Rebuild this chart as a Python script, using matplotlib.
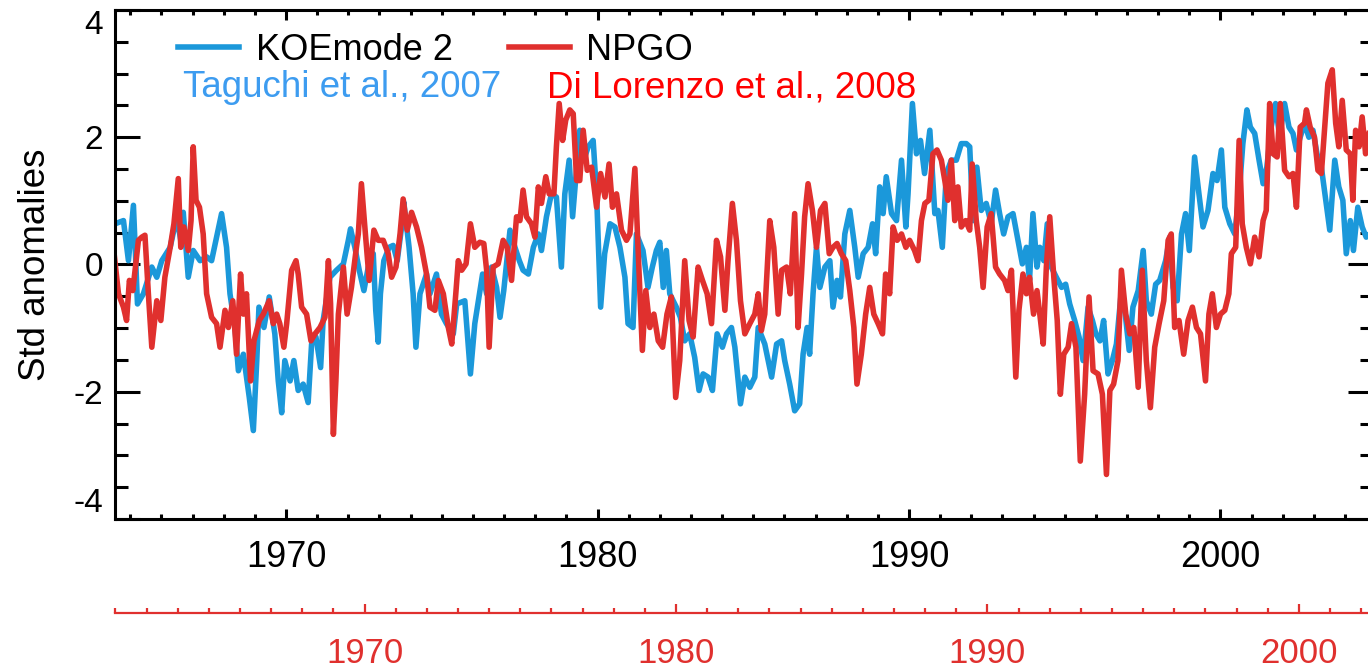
import matplotlib
matplotlib.use("Agg")
import matplotlib.pyplot as plt
from matplotlib.ticker import MultipleLocator

plt.rcParams['font.family'] = ['Liberation Sans', 'DejaVu Sans']
plt.rcParams['axes.unicode_minus'] = False

# KOE mode 2 (Taguchi et al., 2007)
koe_year = [
    1964.51, 1964.78, 1964.94, 1965.10, 1965.23, 1965.42, 1965.69, 1965.85, 1966.01, 1966.28,
    1966.49, 1966.62, 1966.70, 1966.86, 1967.02, 1967.24, 1967.45, 1967.61, 1967.93, 1968.09,
    1968.20, 1968.36, 1968.47, 1968.63, 1968.82, 1968.95, 1969.06, 1969.13, 1969.29, 1969.46,
    1969.64, 1969.75, 1969.86, 1969.96, 1970.13, 1970.25, 1970.39, 1970.55, 1970.71, 1970.82,
    1970.96, 1971.11, 1971.19, 1971.41, 1971.62, 1971.84, 1972.00, 1972.07, 1972.21, 1972.35,
    1972.50, 1972.64, 1972.80, 1972.88, 1972.96, 1973.03, 1973.14, 1973.31, 1973.44, 1973.57,
    1973.71, 1973.78, 1973.95, 1974.08, 1974.17, 1974.30, 1974.51, 1974.62, 1974.83, 1974.99,
    1975.15, 1975.37, 1975.48, 1975.74, 1975.92, 1976.06, 1976.31, 1976.44, 1976.60, 1976.76,
    1976.87, 1976.99, 1977.19, 1977.35, 1977.49, 1977.61, 1977.78, 1977.94, 1978.10, 1978.20,
    1978.36, 1978.52, 1978.68, 1978.84, 1978.95, 1979.09, 1979.20, 1979.33, 1979.43, 1979.56,
    1979.70, 1979.86, 1979.97, 1980.10, 1980.23, 1980.40, 1980.56, 1980.72, 1980.88, 1980.98,
    1981.14, 1981.25, 1981.46, 1981.62, 1981.76, 1981.89, 1982.00, 1982.11, 1982.21, 1982.32,
    1982.53, 1982.66, 1982.80, 1982.96, 1983.12, 1983.26, 1983.39, 1983.55, 1983.69, 1983.84,
    1984.01, 1984.14, 1984.30, 1984.41, 1984.59, 1984.73, 1984.89, 1985.05, 1985.16, 1985.37,
    1985.59, 1985.75, 1985.91, 1986.01, 1986.17, 1986.33, 1986.49, 1986.60, 1986.73, 1986.81,
    1986.92, 1987.03, 1987.14, 1987.30, 1987.46, 1987.56, 1987.69, 1987.80, 1987.94, 1988.10,
    1988.26, 1988.37, 1988.53, 1988.69, 1988.83, 1988.93, 1989.06, 1989.17, 1989.27, 1989.44,
    1989.60, 1989.76, 1989.90, 1989.97, 1990.11, 1990.24, 1990.37, 1990.50, 1990.67, 1990.83,
    1990.93, 1991.07, 1991.20, 1991.36, 1991.52, 1991.68, 1991.84, 1991.95, 1992.06, 1992.18,
    1992.32, 1992.48, 1992.64, 1992.78, 1992.91, 1993.04, 1993.18, 1993.34, 1993.50, 1993.64,
    1993.77, 1993.87, 1993.98, 1994.11, 1994.20, 1994.33, 1994.44, 1994.57, 1994.73, 1994.90,
    1995.03, 1995.16, 1995.32, 1995.46, 1995.59, 1995.75, 1995.89, 1996.00, 1996.13, 1996.25,
    1996.39, 1996.53, 1996.66, 1996.82, 1996.93, 1997.07, 1997.19, 1997.36, 1997.52, 1997.62,
    1997.78, 1997.92, 1998.05, 1998.24, 1998.37, 1998.48, 1998.61, 1998.75, 1998.88, 1999.00,
    1999.17, 1999.31, 1999.44, 1999.60, 1999.76, 1999.89, 2000.03, 2000.14, 2000.30, 2000.46,
    2000.60, 2000.72, 2000.85, 2000.96, 2001.10, 2001.24, 2001.37, 2001.49, 2001.63, 2001.77,
    2001.90, 2002.06, 2002.20, 2002.33, 2002.44, 2002.56, 2002.70, 2002.84, 2002.97, 2003.10,
    2003.24, 2003.38, 2003.51, 2003.67, 2003.80, 2003.93, 2004.04, 2004.17, 2004.27, 2004.41,
    2004.55, 2004.68, 2004.79,
]
koe_value = [
    0.64, 0.69, 0.06, 0.93, -0.62, -0.46, -0.04, -0.20, 0.06, 0.27,
    0.75, 0.38, 0.82, -0.20, 0.22, 0.06, 0.12, 0.06, 0.80, 0.27,
    -0.46, -0.99, -1.67, -1.41, -2.09, -2.61, -1.51, -0.67, -0.99, -0.51,
    -1.09, -1.83, -2.33, -1.51, -1.83, -1.51, -1.98, -1.88, -2.17, -1.25,
    -1.14, -1.62, -0.88, -0.20, -0.09, 0.01, 0.38, 0.56, 0.27, -0.09,
    -0.41, -0.04, 0.17, -0.72, -1.22, -0.46, 0.06, 0.27, 0.30, 0.06,
    0.59, 0.98, 0.27, -0.46, -1.30, -0.46, -0.15, -0.46, -0.15, -0.78,
    -0.93, -1.09, -0.62, -0.57, -1.72, -0.93, -0.15, -0.46, -0.04, -0.36,
    -0.83, -0.41, 0.54, 0.27, 0.06, -0.09, -0.15, 0.27, 0.48, 0.22,
    0.75, 1.11, 1.06, -0.04, 1.11, 1.64, 0.75, 1.53, 2.11, 1.64,
    1.85, 1.95, 1.11, -0.67, 0.17, 0.64, 0.59, 0.27, -0.20, -0.93,
    -0.99, 0.48, 0.22, -0.36, -0.04, 0.22, 0.35, -0.36, 0.22, -0.46,
    -0.67, -0.83, -1.20, -1.09, -1.46, -1.98, -1.72, -1.77, -1.98, -1.09,
    -1.30, -1.09, -0.99, -1.30, -2.19, -1.77, -1.93, -1.77, -0.99, -1.25,
    -1.77, -1.25, -1.20, -1.51, -1.88, -2.30, -2.19, -1.41, -0.99, -1.41,
    -0.46, 0.27, -0.36, -0.04, 0.06, -0.67, -0.25, -0.51, 0.48, 0.85,
    0.27, -0.20, 0.17, 0.27, 0.64, 0.17, 1.22, 0.80, 1.38, 0.80,
    0.69, 1.64, 0.59, 1.11, 2.53, 1.74, 1.95, 1.43, 2.11, 0.80,
    0.85, 0.27, 1.43, 1.64, 1.64, 1.90, 1.90, 1.85, 0.69, 1.53,
    0.85, 0.96, 0.64, 1.17, 0.80, 0.48, 0.75, 0.80, 0.38, 0.01,
    0.27, -0.25, 0.80, -0.04, 0.27, 0.06, 0.64, -0.04, -0.20, -0.36,
    -0.31, -0.62, -0.88, -1.14, -1.51, -0.67, -0.88, -1.09, -1.20, -0.88,
    -1.72, -1.51, -1.25, -0.41, -0.72, -1.35, -0.67, -0.41, 0.22, -0.57,
    -0.78, -0.31, -0.25, 0.06, 0.43, -0.36, -0.57, 0.48, 0.80, 0.22,
    1.69, 1.11, 0.59, 0.85, 1.43, 1.32, 1.80, 0.90, 0.64, 0.48,
    1.11, 1.90, 2.43, 2.16, 2.06, 1.64, 1.27, 1.53, 2.16, 2.53,
    2.00, 2.53, 2.16, 2.06, 1.80, 2.00, 2.22, 2.00, 2.11, 1.74,
    1.53, 1.01, 0.54, 1.64, 1.22, 1.01, 0.17, 0.69, 0.22, 0.90,
    0.59, 0.43, 0.48,
]

# NPGO (Di Lorenzo et al., 2008), plotted with its lag
npgo_year = [
    1964.48, 1964.62, 1964.78, 1964.88, 1964.97, 1965.08, 1965.26, 1965.37, 1965.47, 1965.58,
    1965.69, 1965.85, 1965.98, 1966.11, 1966.28, 1966.40, 1966.54, 1966.62, 1966.72, 1966.86,
    1966.95, 1967.02, 1967.11, 1967.22, 1967.34, 1967.45, 1967.61, 1967.77, 1967.88, 1968.04,
    1968.15, 1968.29, 1968.41, 1968.54, 1968.63, 1968.73, 1968.86, 1968.97, 1969.14, 1969.27,
    1969.46, 1969.59, 1969.70, 1969.80, 1969.93, 1970.02, 1970.18, 1970.32, 1970.39, 1970.50,
    1970.66, 1970.80, 1970.93, 1971.09, 1971.25, 1971.36, 1971.43, 1971.52, 1971.60, 1971.68,
    1971.84, 1971.96, 1972.10, 1972.26, 1972.32, 1972.42, 1972.53, 1972.67, 1972.82, 1972.96,
    1973.12, 1973.28, 1973.39, 1973.53, 1973.66, 1973.76, 1973.89, 1974.03, 1974.19, 1974.35,
    1974.51, 1974.62, 1974.78, 1974.89, 1975.05, 1975.21, 1975.32, 1975.45, 1975.53, 1975.64,
    1975.78, 1975.92, 1976.06, 1976.22, 1976.35, 1976.44, 1976.52, 1976.65, 1976.81, 1976.97,
    1977.10, 1977.24, 1977.40, 1977.51, 1977.61, 1977.72, 1977.88, 1977.99, 1978.10, 1978.20,
    1978.34, 1978.45, 1978.60, 1978.68, 1978.77, 1978.88, 1978.98, 1979.11, 1979.22, 1979.33,
    1979.43, 1979.54, 1979.67, 1979.81, 1979.97, 1980.10, 1980.24, 1980.37, 1980.48, 1980.61,
    1980.77, 1980.93, 1981.04, 1981.20, 1981.30, 1981.44, 1981.55, 1981.68, 1981.81, 1981.95,
    1982.09, 1982.23, 1982.37, 1982.51, 1982.64, 1982.80, 1982.94, 1983.07, 1983.23, 1983.37,
    1983.52, 1983.66, 1983.82, 1983.95, 1984.09, 1984.19, 1984.33, 1984.46, 1984.59, 1984.73,
    1984.89, 1985.05, 1985.16, 1985.26, 1985.37, 1985.53, 1985.66, 1985.80, 1985.91, 1986.07,
    1986.19, 1986.33, 1986.44, 1986.55, 1986.65, 1986.76, 1986.90, 1987.03, 1987.16, 1987.30,
    1987.44, 1987.56, 1987.69, 1987.83, 1987.97, 1988.10, 1988.23, 1988.33, 1988.47, 1988.61,
    1988.74, 1988.87, 1989.01, 1989.15, 1989.25, 1989.38, 1989.49, 1989.62, 1989.76, 1989.90,
    1990.02, 1990.18, 1990.29, 1990.40, 1990.51, 1990.64, 1990.77, 1990.90, 1991.04, 1991.15,
    1991.25, 1991.36, 1991.47, 1991.57, 1991.68, 1991.82, 1991.95, 1992.03, 1992.16, 1992.27,
    1992.38, 1992.51, 1992.64, 1992.78, 1992.91, 1993.07, 1993.18, 1993.29, 1993.43, 1993.53,
    1993.66, 1993.77, 1993.87, 1994.00, 1994.11, 1994.20, 1994.31, 1994.41, 1994.52, 1994.65,
    1994.76, 1994.86, 1994.97, 1995.11, 1995.22, 1995.36, 1995.50, 1995.64, 1995.78, 1995.91,
    1996.07, 1996.21, 1996.34, 1996.45, 1996.57, 1996.71, 1996.82, 1996.96, 1997.09, 1997.22,
    1997.36, 1997.49, 1997.62, 1997.75, 1997.89, 1998.03, 1998.18, 1998.32, 1998.42, 1998.53,
    1998.67, 1998.82, 1998.96, 1999.10, 1999.23, 1999.36, 1999.52, 1999.63, 1999.74, 1999.87,
    2000.00, 2000.14, 2000.27, 2000.35, 2000.49, 2000.60, 2000.70, 2000.83, 2000.96, 2001.10,
    2001.24, 2001.37, 2001.47, 2001.58, 2001.69, 2001.82, 2001.92, 2002.06, 2002.20, 2002.33,
    2002.44, 2002.56, 2002.70, 2002.76, 2002.88, 2003.02, 2003.13, 2003.24, 2003.34, 2003.45,
    2003.59, 2003.70, 2003.80, 2003.91, 2004.04, 2004.17, 2004.25, 2004.34, 2004.45, 2004.55,
    2004.66, 2004.77,
]
npgo_value = [
    0.17, -0.46, -0.67, -0.88, -0.25, -0.41, 0.38, 0.43, 0.46, -0.46,
    -1.30, -0.57, -0.88, -0.20, 0.27, 0.64, 1.35, 0.27, 0.59, 0.22,
    0.69, 1.85, 1.01, 0.90, 0.48, -0.46, -0.83, -0.93, -1.30, -0.72,
    -0.99, -0.57, -1.41, -0.15, -0.78, -0.46, -1.83, -1.20, -0.88, -0.78,
    -0.57, -0.93, -0.78, -0.93, -1.30, -0.93, -0.09, 0.06, -0.15, -0.67,
    -0.78, -1.20, -1.09, -0.99, -0.83, 0.06, -0.62, -2.67, -1.83, -0.78,
    -0.04, -0.78, -0.36, 0.27, 0.48, 1.27, 0.59, -0.25, 0.54, 0.38,
    0.38, 0.17, -0.20, -0.04, 0.48, 1.03, 0.54, 0.82, 0.59, 0.27,
    -0.15, -0.67, -0.72, -0.25, -0.46, -0.99, -1.25, -0.46, 0.06, -0.09,
    0.01, 0.64, 0.27, 0.35, 0.33, -0.09, -1.30, -0.04, 0.01, 0.38,
    0.27, -0.25, 0.75, 0.69, 1.17, 0.75, 0.64, 0.43, 1.22, 0.96,
    1.38, 1.11, 1.11, 1.85, 2.53, 1.95, 2.27, 2.43, 2.37, 1.32,
    1.32, 2.11, 1.48, 1.53, 0.90, 1.43, 1.06, 1.58, 0.90, 1.11,
    0.54, 0.38, 0.48, 1.51, 0.27, -1.35, -0.41, -0.99, -0.78, -1.20,
    -1.30, -0.78, -0.51, -2.09, -1.51, 0.06, -0.88, -1.14, -0.04, -0.25,
    -0.46, -0.93, 0.38, 0.12, -0.72, 0.06, 0.96, 0.38, -0.57, -1.09,
    -0.93, -0.78, -0.46, -1.04, -0.78, 0.69, 0.27, -0.78, -0.09, -0.04,
    -0.46, 0.80, -0.99, -0.15, 0.75, 1.27, 0.85, 0.27, 0.85, 0.96,
    0.17, 0.27, 0.33, 0.17, 0.06, -0.41, -0.99, -1.88, -1.41, -0.78,
    -0.36, -0.78, -0.93, -1.09, -0.15, -0.46, 0.59, 0.38, 0.48, 0.27,
    0.38, 0.22, 0.06, 0.69, 0.96, 1.01, 1.74, 1.80, 1.64, 1.32,
    1.01, 1.64, 0.69, 1.22, 0.59, 0.69, 0.54, 1.58, 0.69, 0.27,
    -0.36, 0.59, 0.80, -0.04, -0.15, -0.25, -0.41, -0.09, -1.77, -0.72,
    -0.15, -0.46, -0.20, -0.78, -0.41, -0.78, -1.25, -0.04, 0.75, -0.20,
    -0.88, -2.04, -1.41, -1.30, -0.93, -1.30, -3.09, -2.04, -0.51, -1.67,
    -1.72, -2.04, -3.30, -1.98, -1.88, -1.51, -0.09, -0.78, -1.09, -0.99,
    -1.93, -0.09, -1.51, -2.25, -1.30, -0.93, -0.57, 0.38, 0.48, -0.99,
    -0.88, -1.41, -0.88, -0.67, -0.99, -1.09, -1.83, -0.78, -0.46, -0.99,
    -0.78, -0.72, -0.46, 0.17, 0.27, 1.95, 0.64, 0.27, 0.01, 0.43,
    0.12, 0.69, 0.85, 2.53, 1.74, 1.69, 2.53, 1.48, 1.38, 1.43,
    0.90, 2.16, 2.22, 2.43, 2.16, 2.00, 1.48, 1.43, 2.11, 2.85,
    3.06, 2.22, 1.85, 2.58, 1.80, 1.74, 1.01, 2.11, 1.85, 2.32,
    1.74, 2.06,
]

npgo_lag = 2.52  # shift between the black (KOE) and red (NPGO) time axes, years
year_ticks = [1970, 1980, 1990, 2000]
value_ticks = [-4, -2, 0, 2, 4]

blue = '#1b98da'
red = '#e0302e'

fig = plt.figure(figsize=(13.68, 6.67), dpi=100)
ax = fig.add_axes([0.0841, 0.2219, 0.9196, 0.7631])

ax.plot(koe_year, koe_value, color=blue, lw=4.0, label='KOEmode 2')
ax.plot(npgo_year, npgo_value, color=red, lw=4.0, label='NPGO')

ax.set_xlim(1964.51, 2004.9)
ax.set_ylim(-4, 4)
ax.set_xticks(year_ticks)
ax.xaxis.set_minor_locator(MultipleLocator(1))
ax.set_yticks(value_ticks)
ax.yaxis.set_minor_locator(MultipleLocator(0.5))

ax.tick_params(which='both', direction='in', top=True, right=True, width=2.2, colors='black')
ax.tick_params(axis='x', which='major', length=7.5, pad=15, labelsize=26)
ax.tick_params(axis='x', which='minor', length=3.8)
ax.tick_params(axis='y', which='major', length=18, pad=8.6, labelsize=24)
ax.tick_params(axis='y', which='minor', length=9.4)
for s in ax.spines.values():
    s.set_linewidth(2.2)

ylabs = ax.get_yticklabels()
ylabs[0].set_va('bottom')
ylabs[-1].set_va('top')

ax.set_ylabel('Std anomalies', fontsize=26.5)
ax.yaxis.set_label_coords(-0.049, 0.5)

ax.legend(ncol=2, frameon=False, loc='center left', bbox_to_anchor=(0.050, 0.921),
          fontsize=26, handlelength=1.7, handletextpad=0.45, columnspacing=1.55,
          borderpad=0, borderaxespad=0)

ax.text(0.054, 0.829, 'Taguchi et al., 2007', color='#3d9cf0', fontsize=26.5,
        transform=ax.transAxes, va='baseline')
ax.text(0.3434, 0.829, 'Di Lorenzo et al., 2008', color='#ff0000', fontsize=26.5,
        transform=ax.transAxes, va='baseline')

# red time axis for the lagged NPGO
sec = ax.secondary_xaxis(-0.1847, functions=(lambda x: x - npgo_lag, lambda x: x + npgo_lag))
sec.set_xticks(year_ticks)
sec.xaxis.set_minor_locator(MultipleLocator(1))
sec.tick_params(which='both', direction='in', color=red, labelcolor=red, width=1.6)
sec.tick_params(which='major', length=6.5, pad=17, labelsize=25)
sec.tick_params(which='minor', length=3.6)
sec.spines['bottom'].set_color(red)
sec.spines['bottom'].set_linewidth(1.6)

fig.savefig('out.png', dpi=100)
